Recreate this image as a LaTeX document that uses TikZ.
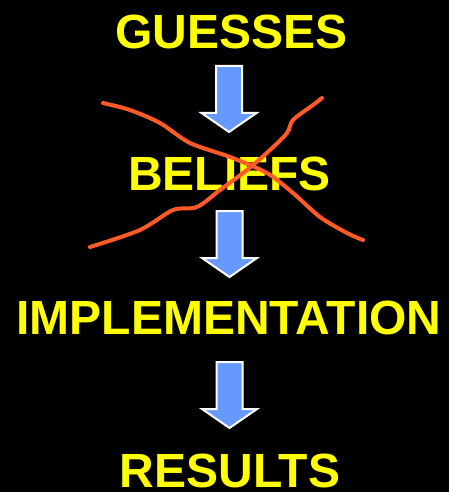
\documentclass[tikz,border=0pt]{standalone}
\usepackage{fontspec}
\setmainfont{Liberation Sans}
\definecolor{wordyellow}{HTML}{FFFF00}
\definecolor{arrowblue}{HTML}{6699FF}
\definecolor{crossred}{HTML}{FF5A28}
\tikzset{
  word/.style={text=wordyellow, font=\bfseries\fontsize{48}{48}\selectfont, inner sep=0pt, anchor=base},
  blockarrow/.style={fill=arrowblue, draw=white, line width=2pt, line join=miter},
  cross/.style={draw=crossred, line width=4pt, line cap=round, line join=round},
  pics/downarrow/.style={code={
    \path[blockarrow] (-13,0) -- (13,0) -- (13,47) -- (27.5,47) -- (0,66) -- (-27.5,47) -- (-13,47) -- cycle;
  }}
}
\begin{document}
\begin{tikzpicture}[x=1pt,y=-1pt]
  \fill[black] (0,0) rectangle (449,492);
  \useasboundingbox (0,0) rectangle (449,492);

  % the four stages
  \node[word] (guesses) at (231.5,49) {GUESSES};
  \node[word] (beliefs) at (229.5,190) {BELIEFS};
  \node[word] (impl) at (229,334) {IMPLEMENTATION};
  \node[word] (results) at (230,487.5) {RESULTS};

  % block arrows between the stages
  \pic (a1) at (229,66) {downarrow};
  \pic (a2) at (229.5,211) {downarrow};
  \pic (a3) at (229.5,362) {downarrow};

  % hand-drawn cross over the second stage
  \draw[cross] plot[smooth, tension=0.5] coordinates {
    (103,103) (130,110) (160,123) (190,143) (230,157) (267,173)
    (293,193) (320,217) (347,233) (363,240)};
  \draw[cross] plot[smooth, tension=0.5] coordinates {
    (90,247) (140,230) (173,210) (197,207) (220,190) (247,170)
    (270,150) (287,133) (293,120) (313,105) (322,98)};
\end{tikzpicture}
\end{document}
